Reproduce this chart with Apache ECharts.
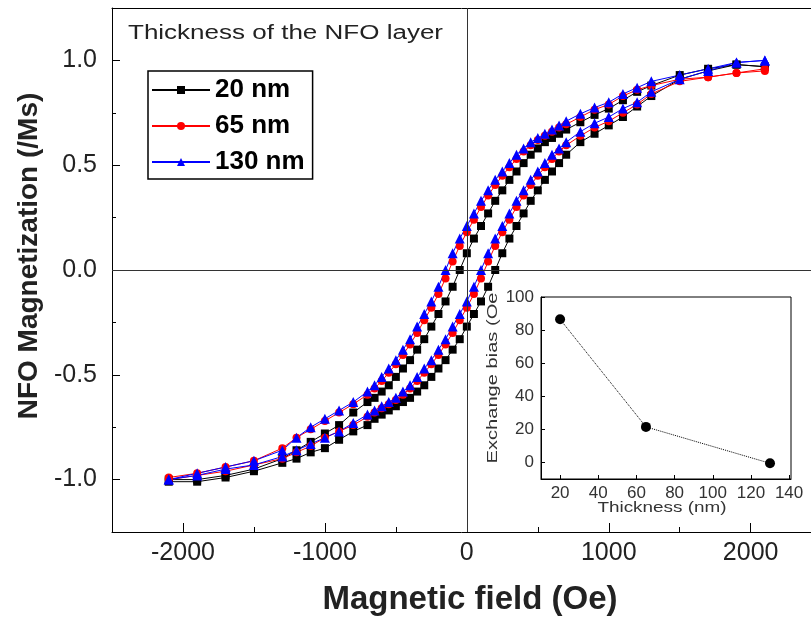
<!DOCTYPE html>
<html>
<head>
<meta charset="utf-8">
<script src="https://cdn.jsdelivr.net/npm/echarts@6/dist/echarts.min.js"></script>
<style>
html, body { margin: 0; padding: 0; background: #fff; }
#chart { width: 811px; height: 617px; }
</style>
</head>
<body>
<div id="chart"></div>
<script>
// Applied field (Oe), sweep from +2100 down to -2100; the return sweep uses the same fields reversed
const fields = [2100, 1900, 1700, 1500, 1300, 1200, 1100, 1000, 900, 800,
  700, 650, 600, 550, 500, 450, 400, 350, 300, 250,
  200, 150, 100, 50, 0, -50, -100, -150, -200, -250,
  -300, -350, -400, -450, -500, -550, -600, -650, -700, -800,
  -900, -1000, -1100, -1200, -1300, -1500, -1700, -1900, -2100];

// Normalised NFO magnetization, descending branch (same order as fields)
const nm20Down = [0.97, 0.98, 0.96, 0.93, 0.88, 0.85, 0.81, 0.77, 0.74, 0.705,
  0.67, 0.65, 0.63, 0.61, 0.58, 0.55, 0.51, 0.47, 0.43, 0.38,
  0.33, 0.27, 0.21, 0.15, 0.08, 0.00, -0.08, -0.15, -0.21, -0.27,
  -0.33, -0.38, -0.43, -0.47, -0.51, -0.55, -0.58, -0.61, -0.63, -0.68,
  -0.74, -0.78, -0.82, -0.86, -0.90, -0.95, -0.98, -1.00, -1.00];
// Ascending branch (fields reversed: -2100 up to +2100)
const nm20Up = [-1.01, -1.01, -0.99, -0.96, -0.92, -0.90, -0.87, -0.85, -0.81, -0.77,
  -0.74, -0.71, -0.69, -0.67, -0.65, -0.63, -0.61, -0.58, -0.55, -0.51,
  -0.47, -0.43, -0.38, -0.33, -0.27, -0.21, -0.15, -0.08, 0.00, 0.08,
  0.15, 0.21, 0.27, 0.33, 0.38, 0.43, 0.47, 0.51, 0.55, 0.61,
  0.65, 0.69, 0.73, 0.78, 0.83, 0.91, 0.95, 0.98, 0.97];

const nm65Down = [0.95, 0.94, 0.92, 0.91, 0.88, 0.86, 0.83, 0.79, 0.765, 0.73,
  0.695, 0.68, 0.66, 0.64, 0.62, 0.595, 0.565, 0.53, 0.49, 0.45,
  0.405, 0.355, 0.30, 0.24, 0.18, 0.115, 0.04, -0.04, -0.115, -0.18,
  -0.24, -0.30, -0.355, -0.405, -0.45, -0.49, -0.53, -0.565, -0.595, -0.64,
  -0.68, -0.72, -0.76, -0.80, -0.85, -0.91, -0.94, -0.97, -0.99];
const nm65Up = [-1.00, -0.98, -0.96, -0.93, -0.90, -0.87, -0.84, -0.80, -0.77, -0.74,
  -0.70, -0.68, -0.66, -0.64, -0.62, -0.595, -0.565, -0.53, -0.49, -0.45,
  -0.405, -0.355, -0.30, -0.24, -0.18, -0.115, -0.04, 0.04, 0.115, 0.18,
  0.24, 0.30, 0.355, 0.405, 0.45, 0.49, 0.53, 0.565, 0.595, 0.64,
  0.68, 0.71, 0.75, 0.79, 0.84, 0.90, 0.92, 0.94, 0.96];

const nm130Down = [1.00, 0.99, 0.96, 0.93, 0.90, 0.87, 0.84, 0.80, 0.775, 0.745,
  0.71, 0.69, 0.67, 0.65, 0.63, 0.61, 0.58, 0.55, 0.51, 0.47,
  0.43, 0.38, 0.33, 0.27, 0.21, 0.15, 0.08, 0.00, -0.08, -0.15,
  -0.21, -0.27, -0.33, -0.38, -0.43, -0.47, -0.51, -0.55, -0.58, -0.63,
  -0.67, -0.71, -0.75, -0.80, -0.86, -0.91, -0.94, -0.97, -1.00];
const nm130Up = [-1.00, -0.98, -0.95, -0.93, -0.89, -0.86, -0.83, -0.80, -0.77, -0.73,
  -0.69, -0.67, -0.65, -0.63, -0.61, -0.58, -0.55, -0.51, -0.47, -0.43,
  -0.38, -0.33, -0.27, -0.21, -0.15, -0.08, 0.00, 0.08, 0.15, 0.21,
  0.27, 0.33, 0.38, 0.43, 0.47, 0.51, 0.55, 0.58, 0.61, 0.66,
  0.70, 0.73, 0.77, 0.80, 0.85, 0.91, 0.95, 0.99, 1.00];

const seriesNames = ['20 nm', '65 nm', '130 nm'];

// Axis ticks
const xTicks = [-2000, -1000, 0, 1000, 2000];
const xMinorTicks = [-1500, -500, 500, 1500];
const yTicks = [-1, -0.5, 0, 0.5, 1];
const yMinorTicks = [-0.75, -0.25, 0.25, 0.75];

// Inset: exchange bias versus NFO thickness
const insetThickness = [20, 65, 130];
const insetBias = [86.5, 21.5, -0.5];
const insetXTicks = [20, 40, 60, 80, 100, 120, 140];
const insetYTicks = [0, 20, 40, 60, 80, 100];

const FONT = '"Liberation Sans", Arial, sans-serif';
const FIELD_MIN = -2500, FIELD_MAX = 2425;

function loop(down, up) {
  const pts = [];
  fields.forEach((h, i) => pts.push([h, down[i]]));
  fields.slice().reverse().forEach((h, i) => pts.push([h, up[i]]));
  return pts;
}

function hysteresis(name, color, symbol, size, down, up, extra) {
  return Object.assign({
    name: name,
    type: 'line',
    xAxisIndex: 0,
    yAxisIndex: 0,
    data: loop(down, up),
    symbol: symbol,
    symbolSize: size,
    showAllSymbol: true,
    color: color,
    itemStyle: { color: color },
    lineStyle: { color: color, width: 1 },
    emphasis: { disabled: true }
  }, extra || {});
}

const chart = echarts.init(document.getElementById('chart'), null, { renderer: 'canvas' });

chart.setOption({
  animation: false,
  backgroundColor: '#fff',
  textStyle: { fontFamily: FONT },
  grid: [
    { left: 112, top: 8, right: 0, bottom: 85, show: false },
    { left: 541, top: 297, width: 250, height: 182, show: true, borderColor: '#000', borderWidth: 1, backgroundColor: '#fff', z: 3 }
  ],
  xAxis: [
    {
      gridIndex: 0, type: 'value', min: FIELD_MIN, max: FIELD_MAX, position: 'bottom',
      axisLine: { show: true, onZero: false, lineStyle: { color: '#000', width: 1 } },
      axisTick: { show: true, inside: true, length: 9, customValues: xTicks, lineStyle: { color: '#000' } },
      axisLabel: { customValues: xTicks, fontSize: 25, color: '#222', margin: 9, fontFamily: FONT,
        formatter: v => String(v) },
      splitLine: { show: false }
    },
    {
      gridIndex: 0, type: 'value', min: FIELD_MIN, max: FIELD_MAX, position: 'bottom',
      axisLine: { show: false, onZero: false },
      axisTick: { show: true, inside: true, length: 5, customValues: xMinorTicks, lineStyle: { color: '#000' } },
      axisLabel: { show: false },
      splitLine: { show: false }
    },
    {
      // frame along the top edge
      gridIndex: 0, type: 'value', min: FIELD_MIN, max: FIELD_MAX, position: 'top',
      axisLine: { show: true, onZero: false, lineStyle: { color: '#000', width: 1 } },
      axisTick: { show: false },
      axisLabel: { show: false },
      splitLine: { show: false }
    },
    {
      gridIndex: 1, type: 'value', min: 10, max: 141, position: 'bottom',
      axisLine: { show: true, onZero: false, lineStyle: { color: '#000' } },
      axisTick: { show: true, inside: true, length: 4, customValues: insetXTicks, lineStyle: { color: '#000' } },
      axisLabel: { customValues: insetXTicks, fontSize: 17, color: '#333', margin: 6, fontFamily: FONT },
      splitLine: { show: false },
      z: 3
    }
  ],
  yAxis: [
    {
      gridIndex: 0, type: 'value', min: -1.25, max: 1.25, position: 'left',
      axisLine: { show: true, onZero: false, lineStyle: { color: '#000', width: 1 } },
      axisTick: { show: true, inside: true, length: 8, customValues: yTicks, lineStyle: { color: '#000' } },
      axisLabel: { customValues: yTicks, fontSize: 25, color: '#222', margin: 15, fontFamily: FONT,
        formatter: v => v.toFixed(1) },
      splitLine: { show: false }
    },
    {
      gridIndex: 0, type: 'value', min: -1.25, max: 1.25, position: 'left',
      axisLine: { show: false, onZero: false },
      axisTick: { show: true, inside: true, length: 4, customValues: yMinorTicks, lineStyle: { color: '#000' } },
      axisLabel: { show: false },
      splitLine: { show: false }
    },
    {
      gridIndex: 1, type: 'value', min: -10, max: 100, position: 'left',
      axisLine: { show: true, onZero: false, lineStyle: { color: '#000' } },
      axisTick: { show: true, inside: true, length: 4, customValues: insetYTicks, lineStyle: { color: '#000' } },
      axisLabel: { customValues: insetYTicks, fontSize: 17, color: '#333', margin: 7, fontFamily: FONT },
      splitLine: { show: false },
      z: 3
    }
  ],
  legend: {
    data: seriesNames,
    orient: 'vertical',
    left: 148, top: 71,
    padding: [5, 8, 3, 3],
    itemGap: 8,
    itemWidth: 58,
    itemHeight: 10,
    backgroundColor: '#fff',
    borderColor: '#000',
    borderWidth: 1.5,
    borderRadius: 0,
    selectedMode: false,
    textStyle: { fontSize: 26, fontWeight: 'bold', color: '#000', lineHeight: 28, fontFamily: FONT }
  },
  graphic: [
    {
      type: 'text', x: 128, y: 23, scaleX: 1.3,
      style: { text: 'Thickness of the NFO layer', fontSize: 20, fontFamily: FONT, fill: '#222', textVerticalAlign: 'top' }
    },
    {
      type: 'text', x: 470, y: 600,
      style: { text: 'Magnetic field (Oe)', fontSize: 33, fontWeight: 'bold', fontFamily: FONT, fill: '#222',
        textAlign: 'center', textVerticalAlign: 'middle' }
    },
    {
      type: 'text', x: 29, y: 256, rotation: Math.PI / 2,
      style: { text: 'NFO Magnetization (/Ms)', fontSize: 28, fontWeight: 'bold', fontFamily: FONT, fill: '#222',
        textAlign: 'center', textVerticalAlign: 'middle' }
    },
    {
      type: 'text', x: 662, y: 508, scaleX: 1.35, z: 10,
      style: { text: 'Thickness (nm)', fontSize: 14, fontFamily: FONT, fill: '#333', textAlign: 'center', textVerticalAlign: 'middle' }
    },
    {
      type: 'text', x: 493, y: 378, rotation: Math.PI / 2, scaleX: 1.34, z: 10,
      style: { text: 'Exchange bias (Oe', fontSize: 15, fontFamily: FONT, fill: '#333', textAlign: 'center', textVerticalAlign: 'middle' }
    }
  ],
  series: [
    hysteresis(seriesNames[0], '#000000', 'rect', 8, nm20Down, nm20Up, {
      markLine: {
        silent: true, symbol: 'none', label: { show: false },
        lineStyle: { color: '#333', width: 1, type: 'solid' },
        emphasis: { disabled: true },
        data: [{ xAxis: 0 }, { yAxis: 0 }]
      }
    }),
    hysteresis(seriesNames[1], '#ff0000', 'circle', 8, nm65Down, nm65Up),
    hysteresis(seriesNames[2], '#0000ff', 'triangle', 10, nm130Down, nm130Up),
    {
      name: 'Exchange bias',
      type: 'line',
      xAxisIndex: 3, yAxisIndex: 2,
      data: insetThickness.map((t, i) => [t, insetBias[i]]),
      symbol: 'circle', symbolSize: 10,
      itemStyle: { color: '#000' },
      lineStyle: { color: '#000', width: 1, type: 'dotted' },
      z: 5,
      emphasis: { disabled: true }
    }
  ]
});
</script>
</body>
</html>
